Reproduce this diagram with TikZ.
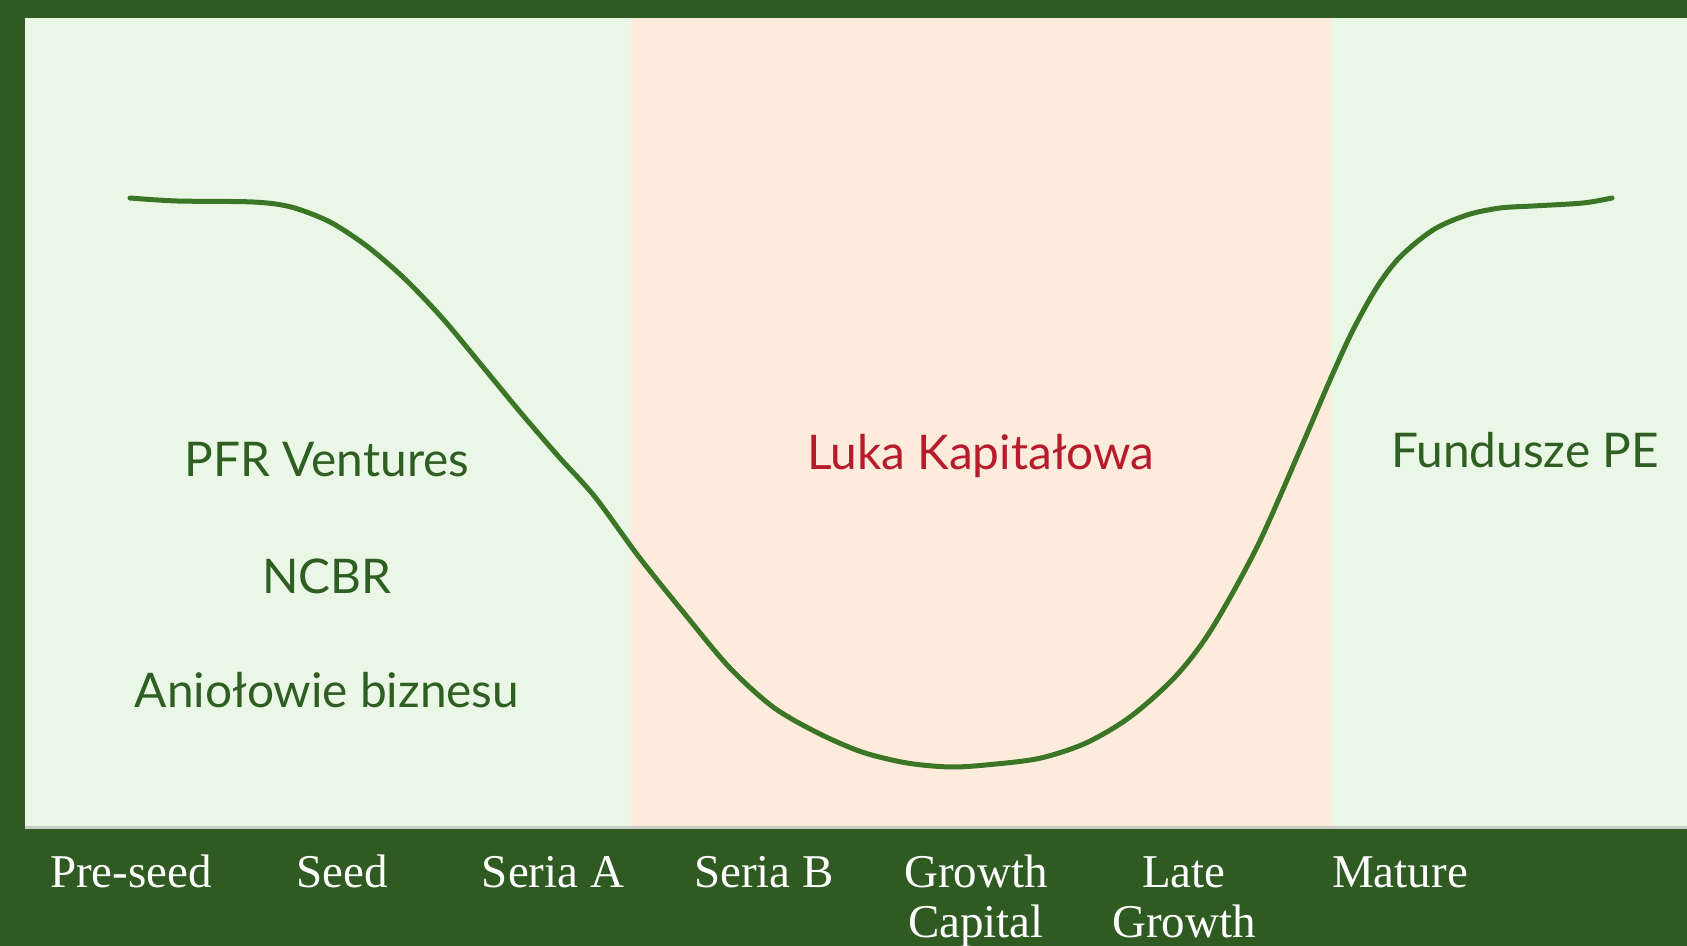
\documentclass[tikz,border=0pt]{standalone}
\usepackage{fontspec}
\setmainfont{Lato}
\newfontfamily\stagefont{Liberation Serif}
\definecolor{darkgreen}{HTML}{2F5A21}
\definecolor{lightgreen}{HTML}{EAF6E6}
\definecolor{peach}{HTML}{FDEBDC}
\definecolor{curvegreen}{HTML}{3B7526}
\definecolor{textgreen}{HTML}{2F5E22}
\definecolor{gapred}{HTML}{B71C2C}
\definecolor{sepgray}{HTML}{C9CDC5}
\tikzset{
  sidelabel/.style={font=\fontsize{23.9}{28}\selectfont, text=textgreen, inner sep=0pt, anchor=base},
  gaplabel/.style={font=\fontsize{23.9}{28}\selectfont, text=gapred, inner sep=0pt, anchor=base},
  stagelabel/.style={font=\stagefont\fontsize{23.5}{25}\selectfont, text=white, inner sep=0pt,
    anchor=base, align=center},
}
\begin{document}
\begin{tikzpicture}[x=0.5pt,y=-0.5pt]
\useasboundingbox (0,0) rectangle (1687,946);
% backgrounds
\fill[darkgreen] (0,0) rectangle (1687,946);
\fill[lightgreen] (25,18) rectangle (1687,828);
\fill[peach] (631,18) rectangle (1331,828);
\fill[sepgray] (25,826) rectangle (1687,829);
% curve
\draw[curvegreen, line width=2.5pt, line cap=round, line join=round]
  plot[smooth, tension=0.5] coordinates {
  (130,198) (177,201) (253,202) (291,207) (330,222) (368,247) (406,280)
  (444,320) (483,367) (521,413) (559,457) (595,497) (639,557) (684,613)
  (729,667) (773,707) (818,733) (862,752) (907,763) (952,767) (996,764)
  (1041,758) (1086,743) (1130,717) (1175,677) (1211,630) (1257,547)
  (1300,450) (1330,380) (1353,330) (1377,287) (1400,257) (1433,230)
  (1467,215) (1500,208) (1533,206) (1583,203) (1612,198)};
% labels
\node[sidelabel] (pfr) at (327,477) {PFR Ventures};
\node[sidelabel] (ncbr) at (327,593) {NCBR};
\node[sidelabel] (anioly) at (327,707) {Aniołowie biznesu};
\node[gaplabel] (luka) at (981,470) {Luka Kapitałowa};
\node[sidelabel] (pe) at (1525,468) {Fundusze PE};
% stages (two-line labels are anchored at their last baseline)
\node[stagelabel] (s1) at (131,887) {Pre-seed};
\node[stagelabel] (s2) at (342,887) {Seed};
\node[stagelabel] (s3) at (553,887) {Seria A};
\node[stagelabel] (s4) at (764,887) {Seria B};
\node[stagelabel] (s5) at (976,937) {Growth\\Capital};
\node[stagelabel] (s6) at (1184,937) {Late\\Growth};
\node[stagelabel] (s7) at (1400,887) {Mature};
\end{tikzpicture}
\end{document}
